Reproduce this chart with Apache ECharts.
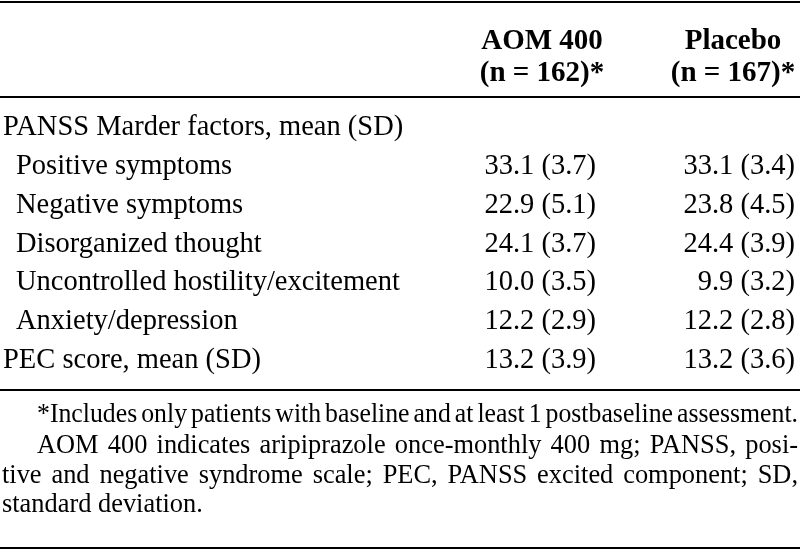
<!DOCTYPE html>
<html><head><meta charset="utf-8">
<script src="https://cdn.jsdelivr.net/npm/echarts@6/dist/echarts.min.js"></script>
<style>html,body{margin:0;padding:0;background:#fff}#c{width:800px;height:550px}</style>
</head><body><div id="c"></div>
<script>
// ---------- data ----------
const rowLabels = [
  "PANSS Marder factors, mean (SD)",
  "Positive symptoms",
  "Negative symptoms",
  "Disorganized thought",
  "Uncontrolled hostility/excitement",
  "Anxiety/depression",
  "PEC score, mean (SD)"
];
const subRows = [false, true, true, true, true, true, false];
const groups = ["AOM 400", "Placebo"];
const groupN = [162, 167];
const aomMean = [null, 33.1, 22.9, 24.1, 10.0, 12.2, 13.2];
const aomSD   = [null, 3.7, 5.1, 3.7, 3.5, 2.9, 3.9];
const plcMean = [null, 33.1, 23.8, 24.4, 9.9, 12.2, 13.2];
const plcSD   = [null, 3.4, 4.5, 3.9, 3.2, 2.8, 3.6];
const footnoteLines = [
  "*Includes only patients with baseline and at least 1 postbaseline assessment.",
  "AOM 400 indicates aripiprazole once-monthly 400 mg; PANSS, posi-",
  "tive and negative syndrome scale; PEC, PANSS excited component; SD,",
  "standard deviation."
];

// ---------- rendering ----------
const FONT = '"Liberation Serif", "Times New Roman", serif';
const BODY = 28.5, HEAD = 29, FOOT = 26.4;
const chart = echarts.init(document.getElementById('c'));

const ctx = document.createElement('canvas').getContext('2d');
function measure(t, size) { ctx.font = size + 'px ' + FONT; return ctx.measureText(t).width; }

function lineEls(text, x0, x1, y, size, justify) {
  const words = text.split(' ');
  const ws = words.map(w => measure(w, size));
  const total = ws.reduce((a, b) => a + b, 0);
  const n = words.length;
  let gap = measure(' ', size), sc = 1;
  if (justify && n > 1) {
    gap = (x1 - x0 - total) / (n - 1);
    const minGap = 4;
    if (gap < minGap) { gap = minGap; sc = (x1 - x0 - minGap * (n - 1)) / total; }
  }
  let x = x0; const els = [];
  words.forEach((w, i) => {
    els.push({ type: 'text', x: x, y: y, scaleX: sc, silent: true,
      style: { text: w, x: 0, y: 0, fontSize: size, fontFamily: FONT, fill: '#000', verticalAlign: 'middle', align: 'left' } });
    x += ws[i] * sc + gap;
  });
  return els;
}

function hline(y) {
  return { type: 'line', silent: true, shape: { x1: 0, y1: y, x2: 800, y2: y }, style: { stroke: '#000', lineWidth: 2 } };
}

const footY = [415, 446, 476, 505];
const footX0 = [37, 37, 2, 2];
const footJust = [true, true, true, false];
let graphics = [hline(2), hline(97), hline(390), hline(548)];
footnoteLines.forEach((t, i) => { graphics = graphics.concat(lineEls(t, footX0[i], 798, footY[i], FOOT, footJust[i])); });

function fmt(m, s) { return m.toFixed(1) + ' (' + s.toFixed(1) + ')'; }
function seriesFor(col, means, sds, off) {
  const data = [];
  means.forEach((m, i) => { if (m != null) data.push({ value: [col, i], txt: fmt(m, sds[i]) }); });
  return {
    type: 'scatter', data: data, symbolSize: 1, silent: true,
    itemStyle: { color: 'transparent', opacity: 1 },
    emphasis: { disabled: true },
    label: { show: true, position: 'inside', align: 'right', offset: [off, 0], opacity: 1,
      fontSize: BODY, fontFamily: FONT, color: '#000', formatter: p => p.data.txt }
  };
}

chart.setOption({
  animation: false,
  backgroundColor: '#fff',
  grid: { left: 541, right: 67, top: 108.65, bottom: 170.45 },
  xAxis: {
    type: 'category', position: 'top', data: groups, boundaryGap: false,
    axisLine: { show: false }, axisTick: { show: false }, splitLine: { show: false },
    axisLabel: {
      margin: 19, interval: 0,
      formatter: (v, i) => '{h|' + v + '}\n{h|(n = ' + groupN[i] + ')*}',
      rich: { h: { fontSize: HEAD, fontFamily: FONT, fontWeight: 'bold', color: '#000', lineHeight: 32 } }
    }
  },
  yAxis: {
    type: 'category', data: rowLabels, inverse: true,
    axisLine: { show: false }, axisTick: { show: false }, splitLine: { show: false },
    axisLabel: {
      margin: 539, align: 'left', interval: 0,
      formatter: (v, i) => subRows[i] ? '{s|' + v + '}' : '{t|' + v + '}',
      rich: {
        t: { fontSize: BODY, fontFamily: FONT, color: '#000' },
        s: { fontSize: BODY, fontFamily: FONT, color: '#000', padding: [0, 0, 0, 13] }
      }
    }
  },
  series: [seriesFor(0, aomMean, aomSD, 54), seriesFor(1, plcMean, plcSD, 62)],
  graphic: graphics
});
</script></body></html>
